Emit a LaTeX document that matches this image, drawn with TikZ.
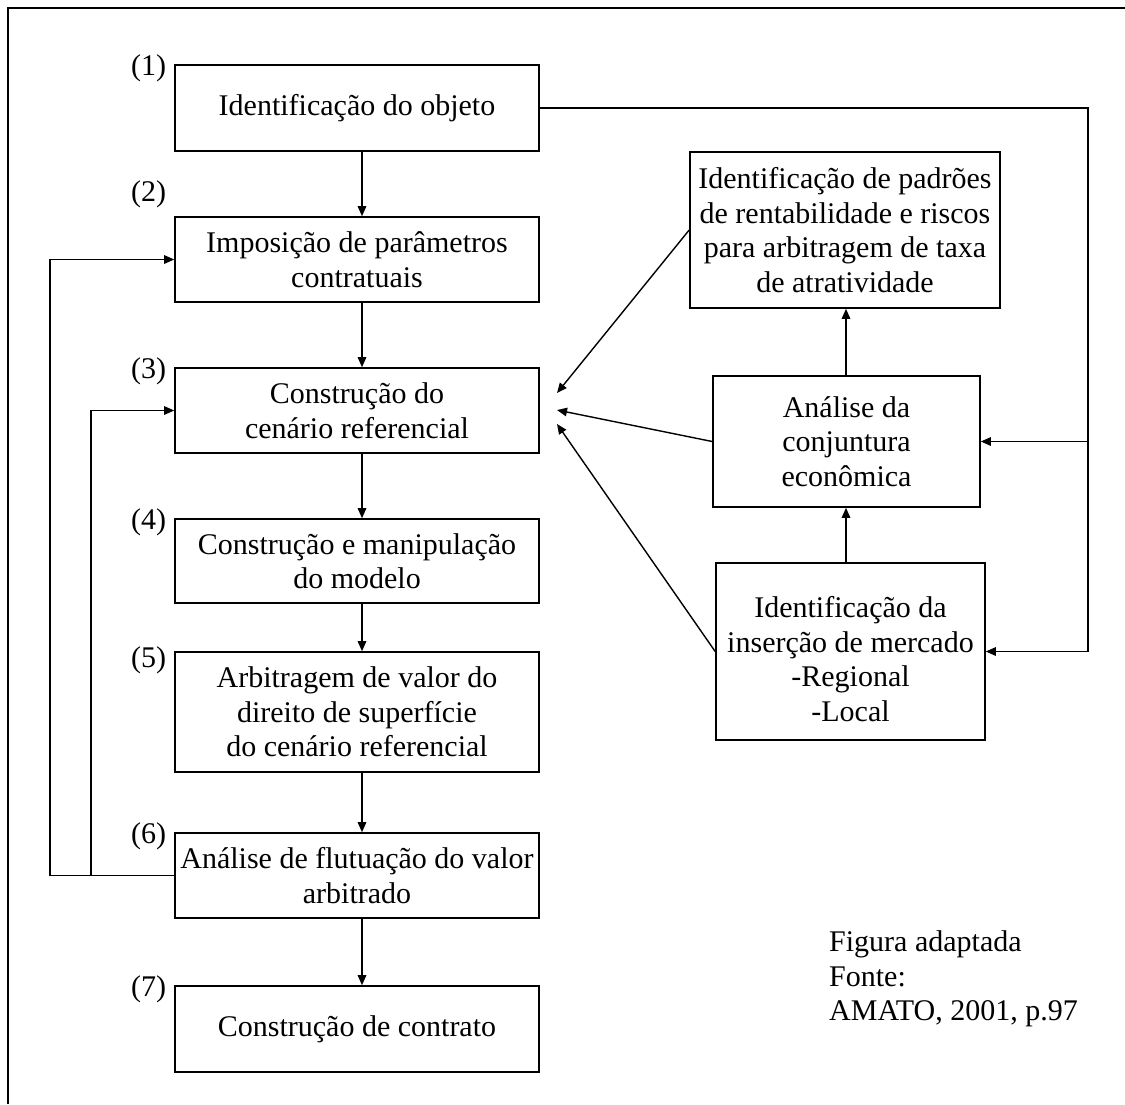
\documentclass[tikz,border=0pt]{standalone}
\usepackage{fontspec}
\setmainfont{Liberation Serif}
\usetikzlibrary{arrows.meta}
\begin{document}
\begin{tikzpicture}[x=1pt,y=-1pt,
  every node/.style={font=\fontsize{30}{34.5}\selectfont},
  stage/.style={draw, line width=1.6pt, inner sep=0pt, align=center, minimum width=364pt},
  side/.style={draw, line width=1.6pt, inner sep=0pt, align=center},
  num/.style={inner sep=0pt},
  link/.style={line width=1.4pt},
  arr/.style={link, -{Triangle[length=10pt,width=8.5pt]}},
]
\useasboundingbox (0,0) rectangle (1125,1104);
% outer frame (left and top edges)
\draw[line width=2.4pt] (8,1104) -- (8,8) -- (1125,8);

% main sequence of stages
\node[stage, minimum height=86pt] (b1) at (357,108) {Identificação do objeto};
\node[stage, minimum height=85pt] (b2) at (357,259.5) {Imposição de parâmetros\\contratuais};
\node[stage, minimum height=85pt] (b3) at (357,410.5) {Construção do\\cenário referencial};
\node[stage, minimum height=84pt] (b4) at (357,561) {Construção e manipulação\\do modelo};
\node[stage, minimum height=120pt] (b5) at (357,712) {Arbitragem de valor do\\direito de superfície\\do cenário referencial};
\node[stage, minimum height=85pt] (b6) at (357,875.5) {Análise de flutuação do valor\\arbitrado};
\node[stage, minimum height=86pt] (b7) at (357,1029) {Construção de contrato};

% stage numbers
\node[num] (n1) at (148.5,68) {(1)};
\node[num] (n2) at (148.5,194) {(2)};
\node[num] (n3) at (148.5,371) {(3)};
\node[num] (n4) at (148.5,522) {(4)};
\node[num] (n5) at (148.5,660) {(5)};
\node[num] (n6) at (148.5,836) {(6)};
\node[num] (n7) at (148.5,989) {(7)};

% side analyses
\node[side, minimum width=310pt, minimum height=156pt] (pad) at (845,230)
  {Identificação de padrões\\de rentabilidade e riscos\\para arbitragem de taxa\\de atratividade};
\node[side, minimum width=267pt, minimum height=131pt] (ana) at (846.5,441.5)
  {Análise da\\conjuntura\\econômica};
\node[side, minimum width=269pt, minimum height=177pt] (ins) at (850.5,651.5) {};
\node[align=center, inner sep=0pt] (inst) at (850.5,659)
  {Identificação da\\inserção de mercado\\-Regional\\-Local};

% source note
\node[anchor=west, align=left, inner sep=0pt] (src) at (829,979)
  {Figura adaptada\\Fonte:\\AMATO, 2001, p.97};

% helper coordinates
\coordinate (ax) at (362,0);
\coordinate (sx) at (846,0);
\coordinate (rx) at (1088,0);
\coordinate (lo) at (50,0);
\coordinate (li) at (91,0);
\coordinate (t1) at (557,393);
\coordinate (t2) at (557,410);
\coordinate (t3) at (557,424);

% downward flow
\foreach \a/\b in {b1/b2,b2/b3,b3/b4,b4/b5,b5/b6,b6/b7}
  \draw[arr] (ax |- \a.south) -- (ax |- \b.north);

% side column flow
\draw[arr] (sx |- ins.north) -- (sx |- ana.south);
\draw[arr] (sx |- ana.north) -- (sx |- pad.south);

% inputs to the reference scenario
\draw[arr] (pad.west) -- (t1);
\draw[arr] (ana.west) -- (t2);
\draw[arr] (ins.west) -- (t3);

% object identification feeds the side column
\draw[arr] (b1.east) -| (rx |- ins.east) -- (ins.east);
\draw[arr] (rx |- ana.east) -- (ana.east);

% feedback loops from stage 6
\draw[link] (b6.west) -- (lo |- b6.west);
\draw[arr] (lo |- b6.west) |- (b2.west);
\draw[arr] (li |- b6.west) |- (b3.west);
\end{tikzpicture}
\end{document}
